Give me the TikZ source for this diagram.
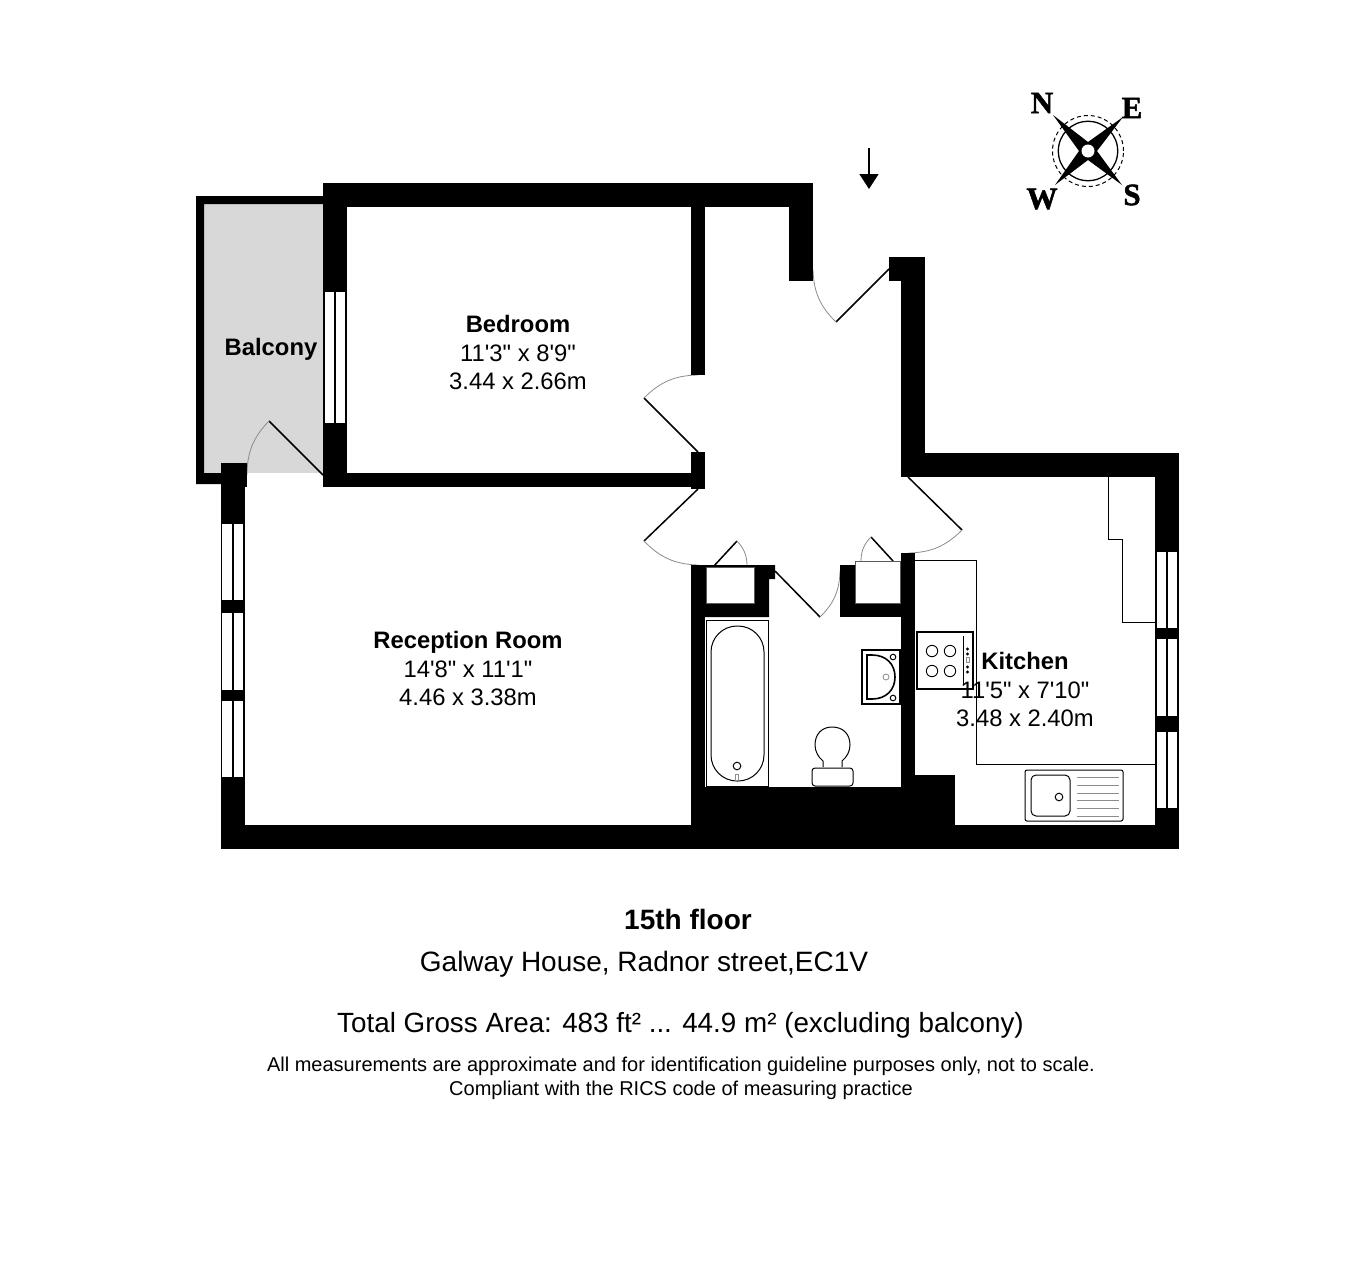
\documentclass[tikz,border=0pt]{standalone}
\usepackage{fontspec}
\usepackage{xcolor}
\usepackage{tikz}
\usetikzlibrary{arrows.meta}
\newfontfamily\planfont{Liberation Sans}
\newfontfamily\compassfont[BoldFeatures={FakeBold=1.6}]{Liberation Serif}
\definecolor{fpGrey}{RGB}{216, 216, 216}
\definecolor{fpSwing}{RGB}{140, 140, 140}
\definecolor{fpRim}{RGB}{90, 90, 90}
\tikzset{
    wall/.style={
        fill=black,
        draw=none
    },
    glass/.style={
        fill=white,
        draw=none
    },
    leaf/.style={
        draw=black,
        line width=1.5pt
    },
    swing/.style={
        draw=fpSwing,
        line width=0.8pt
    },
    fitting/.style={
        draw=black,
        line width=1pt
    },
    duct/.style={
        fill=white,
        draw=fpRim,
        line width=1pt
    },
    drainer/.style={
        draw=fpSwing,
        line width=1pt
    },
    room/.style={
        font=\planfont\fontsize{23.8}{28.7}\selectfont,
        align=center,
        inner sep=0pt
    },
    caption/.style={
        font=\planfont\fontsize{28}{33}\selectfont,
        inner sep=0pt
    },
    smallprint/.style={
        font=\planfont\fontsize{20}{24}\selectfont,
        align=center,
        inner sep=0pt
    },
    point/.style={
        font=\compassfont\bfseries\fontsize{31}{31}\selectfont,
        inner sep=0pt
    }
}
\begin{document}
\begin{tikzpicture}[x=1pt,y=-1pt]
  \useasboundingbox[fill=white] (0,0) rectangle (1362,1272);

  % Balcony
  \fill[fpGrey] (204,204) rectangle (323,473);
  \draw[leaf] (323,475) -- (269,421);
  \draw[swing] (269,421) to[bend right=22] (247,475);
  \fill[wall] (196,196) -- (323,196) -- (323,204) -- (204,204) -- (204,473)
    -- (221,473) -- (221,484) -- (196,484) -- cycle;

  % Doors
  \draw[leaf] (889,269) -- (836,322);
  \draw[swing] (836,322) to[bend left=22] (813,270);
  \draw[leaf] (698,452) -- (644,398);
  \draw[swing] (644,398) to[bend left=22] (698,375);
  \draw[leaf] (698,489) -- (644,541);
  \draw[swing] (644,541) to[bend right=22] (698,565);
  \draw[leaf] (908,477) -- (962,530);
  \draw[swing] (962,530) to[bend left=22] (908,553);
  \draw[leaf] (775,571) -- (820,617);
  \draw[swing] (820,617) to[bend right=22] (840,571);
  \draw[leaf] (713,567) -- (737,541);
  \draw[swing] (737,541) to[bend left=22] (747,567);
  \draw[leaf] (893,561) -- (871,537);
  \draw[swing] (871,537) to[bend right=22] (861,561);

  % Walls
  \fill[wall] (323,183) rectangle (813,207);
  \fill[wall] (323,183) rectangle (347,487);
  \fill[wall] (323,473) rectangle (691,487);
  \fill[wall] (691,207) rectangle (705,375);
  \fill[wall] (691,452) rectangle (705,489);
  \fill[wall] (789,207) rectangle (813,281);
  \fill[wall] (889,257) rectangle (925,281);
  \fill[wall] (901,257) rectangle (925,477);
  \fill[wall] (901,453) rectangle (1179,477);
  \fill[wall] (1155,453) rectangle (1179,849);
  \fill[wall] (221,825) rectangle (1179,849);
  \fill[wall] (221,487) rectangle (245,849);
  \fill[wall] (221,463) rectangle (247,487);
  \fill[wall] (691,565) rectangle (705,849);
  \fill[wall] (691,787) rectangle (915,849);
  \fill[wall] (901,553) rectangle (915,849);
  \fill[wall] (915,775) rectangle (955,849);
  \fill[wall] (691,565) -- (775,565) -- (775,579) -- (769,579) -- (769,617) -- (691,617) -- cycle;
  \fill[wall] (840,565) rectangle (901,617);

  % Cupboards
  \draw[duct] (706,567) rectangle (754,603);
  \draw[duct] (855,561) rectangle (900,603);

  % Windows
  \foreach \ytop/\ybot in {524/600, 613/690, 701/777} {
    \fill[glass] (222,\ytop) rectangle (232.3,\ybot);
    \fill[glass] (233.7,\ytop) rectangle (243.3,\ybot);
  }
  \foreach \ytop/\ybot in {552/628, 639/716, 732/808} {
    \fill[glass] (1157,\ytop) rectangle (1166.3,\ybot);
    \fill[glass] (1167.8,\ytop) rectangle (1177,\ybot);
  }
  \fill[glass] (325,292) rectangle (334.3,423);
  \fill[glass] (335.8,292) rectangle (345,423);

  % Bath
  \draw[fitting] (706,620) rectangle (768,786);
  \draw[fitting, rounded corners=26pt] (711,626) rectangle (764,781);
  \draw[fitting] (737,766) circle (3.8pt);
  \draw[swing] (735.5,774) rectangle (738.5,780);

  % Basin
  \draw[fitting, line width=1.6pt] (862,650) rectangle (900,704);
  \draw[fitting, line width=1.6pt] (867,655) -- (867,699) -- (872,699)
    .. controls (886,699) and (895,690) .. (895,677)
    .. controls (895,664) and (886,655) .. (872,655) -- cycle;
  \draw[fitting] (893,657) circle (2.8pt);
  \draw[fitting] (893,698) circle (2.8pt);
  \draw[swing] (886,677) circle (3pt);

  % WC
  \draw[fitting] (823,767) -- (823,761)
    .. controls (818,757) and (815,751) .. (815,745)
    .. controls (815,734) and (822,727) .. (832,727)
    .. controls (843,727) and (850,734) .. (850,745)
    .. controls (850,751) and (847,757) .. (842,761) -- (842,767);
  \draw[fitting, rounded corners=3pt] (812,768) rectangle (853,786);

  % Kitchen units
  \draw[fitting] (915,560) -- (976,560) -- (976,764) -- (1155,764);
  \draw[fitting] (1108,477) -- (1108,539) -- (1122,539) -- (1122,622) -- (1155,622);

  % Hob
  \draw[fitting, fill=white, line width=1.3pt] (917,632) rectangle (973,689);
  \foreach \ringx in {932, 950} {
    \foreach \ringy in {651, 671} {
      \draw[fitting, line width=0.9pt] (\ringx,\ringy) circle (5.7pt);
    }
  }
  \draw[fitting] (963,636) -- (963,685);
  \foreach \knoby in {649, 654, 667, 672} {
    \fill (967.5,\knoby) circle (1.6pt);
  }
  \draw[swing] (966,657.5) rectangle (969,662.5);

  % Sink
  \draw[fitting, rounded corners=2pt] (1025,770) rectangle (1123,821);
  \draw[fitting, rounded corners=5pt] (1031,775) rectangle (1070,816);
  \draw[fitting] (1059,797) circle (3.8pt);
  \foreach \liney in {777, 785, 793, 800, 808, 816} {
    \draw[drainer] (1077,\liney) -- (1119,\liney);
  }

  % Entrance arrow
  \coordinate (entrytop) at (869,148);
  \coordinate (entrytip) at (869,189);
  \draw[line width=1.5pt, -{Triangle[length=15pt, width=19pt]}] (entrytop) -- (entrytip);

  % Compass
  \draw[line width=1.3pt] (1088,151) circle (29.7pt);
  \draw[line width=1pt, dash pattern=on 4pt off 3pt] (1088,151) circle (35.5pt);
  \fill (1053,115) -- (1088,142) -- (1123,117) -- (1097,151) -- (1122,185)
    -- (1088,160) -- (1055,185) -- (1079,151) -- cycle;
  \fill[white] (1088,151) circle (6.5pt);
  \node[point] (north) at (1042,103) {N};
  \node[point] (east) at (1132,108) {E};
  \node[point] (west) at (1042,199) {W};
  \node[point] (south) at (1132,195) {S};

  % Rooms
  \node[room] (balcony) at (271,349) {\bfseries Balcony};
  \node[room] (bedroom) at (518,352.5) {{\bfseries Bedroom}\\11'3" x 8'9"\\3.44 x 2.66m};
  \node[room] (reception) at (468,668.5) {{\bfseries Reception Room}\\14'8" x 11'1"\\4.46 x 3.38m};
  \node[room] (kitchen) at (1025,689.5) {{\bfseries Kitchen}\\11'5" x 7'10"\\3.48 x 2.40m};

  % Captions
  \node[caption] (floor) at (688,919) {\bfseries 15th floor};
  \node[caption] (address) at (644,964) {Galway House, Radnor street,EC1V};
  \node[caption, font=\planfont\fontsize{27.8}{33}\selectfont] (area) at (680.5,1025) {Total Gross Area: 483 ft² ... 44.9 m² (excluding balcony)};
  \node[smallprint] (terms) at (681,1078.5) {All measurements are approximate and for identification guideline purposes only, not to scale.\\Compliant with the RICS code of measuring practice};
\end{tikzpicture}
\end{document}
